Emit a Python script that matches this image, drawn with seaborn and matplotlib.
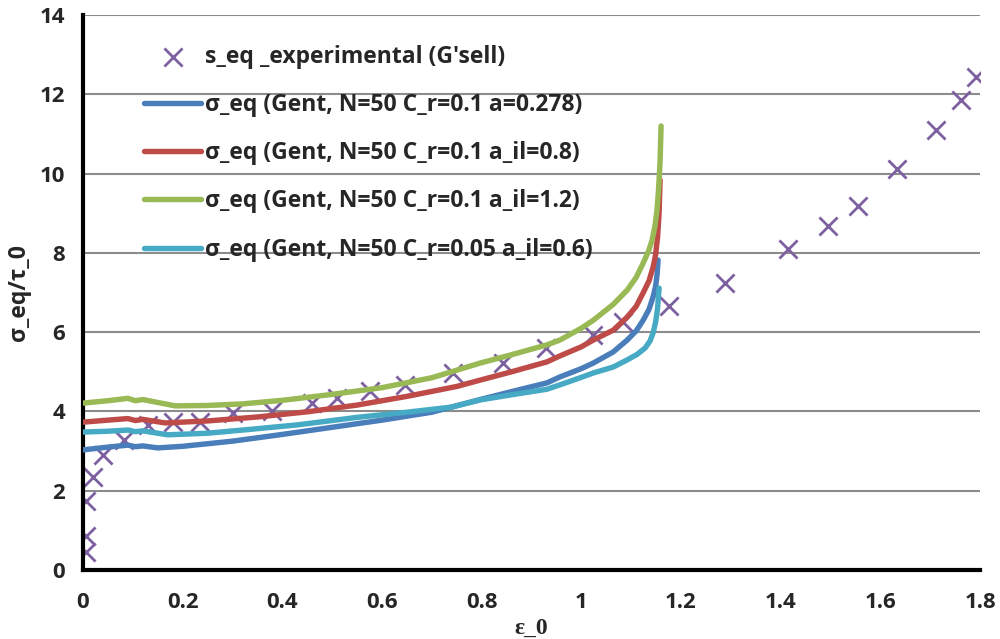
import numpy as np
import pandas as pd
import matplotlib
matplotlib.use("Agg")
import matplotlib.pyplot as plt
import seaborn as sns

# Experimental data (G'sell)
exp_x = [0.006, 0.006, 0.006, 0.02, 0.04, 0.082, 0.13, 0.18, 0.235, 0.30, 0.38, 0.46,
         0.51, 0.576, 0.646, 0.743, 0.843, 0.93, 1.023, 1.084, 1.176, 1.288, 1.415,
         1.495, 1.555, 1.634, 1.712, 1.762, 1.792]
exp_y = [0.45, 0.85, 1.74, 2.35, 2.9, 3.28, 3.66, 3.74, 3.74, 3.95, 4.0, 4.2,
         4.35, 4.52, 4.67, 4.97, 5.22, 5.6, 5.93, 6.26, 6.66, 7.24, 8.1,
         8.68, 9.18, 10.12, 11.1, 11.86, 12.44]

blue_x = [0, 0.05, 0.09, 0.105, 0.12, 0.15, 0.2, 0.3, 0.4, 0.5, 0.6, 0.7, 0.797, 0.86,
          0.931, 0.957, 1.0, 1.024, 1.064, 1.092, 1.11, 1.124, 1.136, 1.144, 1.149,
          1.152, 1.154]
blue_y = [3.03, 3.1, 3.15, 3.11, 3.13, 3.08, 3.12, 3.25, 3.42, 3.6, 3.78, 3.98, 4.3, 4.5,
          4.72, 4.87, 5.08, 5.22, 5.5, 5.8, 6.03, 6.3, 6.58, 6.89, 7.15, 7.45, 7.82]

red_x = [0, 0.05, 0.09, 0.105, 0.12, 0.165, 0.25, 0.35, 0.45, 0.55, 0.65, 0.75, 0.797,
         0.86, 0.931, 0.957, 1.0, 1.024, 1.064, 1.092, 1.11, 1.124, 1.136, 1.144, 1.149,
         1.153, 1.156, 1.158]
red_y = [3.73, 3.78, 3.82, 3.77, 3.8, 3.71, 3.76, 3.86, 3.99, 4.16, 4.38, 4.63, 4.79,
         5.0, 5.25, 5.4, 5.63, 5.8, 6.05, 6.38, 6.65, 6.99, 7.3, 7.64, 7.95, 8.4, 9.0, 9.84]

green_x = [0, 0.05, 0.09, 0.105, 0.12, 0.185, 0.25, 0.32, 0.4, 0.5, 0.6, 0.7, 0.797,
           0.86, 0.931, 0.957, 1.0, 1.024, 1.064, 1.092, 1.11, 1.124, 1.135, 1.142,
           1.148, 1.152, 1.155, 1.158, 1.16]
green_y = [4.21, 4.27, 4.33, 4.27, 4.3, 4.14, 4.15, 4.19, 4.28, 4.43, 4.6, 4.85, 5.22,
           5.43, 5.68, 5.8, 6.1, 6.3, 6.7, 7.06, 7.38, 7.74, 8.05, 8.32, 8.7, 9.1, 9.6,
           10.3, 11.2]

cyan_x = [0, 0.05, 0.09, 0.105, 0.12, 0.17, 0.25, 0.32, 0.43, 0.55, 0.65, 0.74, 0.797,
          0.86, 0.931, 0.957, 1.0, 1.024, 1.064, 1.092, 1.112, 1.128, 1.138, 1.144,
          1.149, 1.153, 1.156]
cyan_y = [3.48, 3.5, 3.53, 3.49, 3.51, 3.41, 3.45, 3.53, 3.66, 3.85, 3.98, 4.11, 4.29,
          4.42, 4.56, 4.67, 4.86, 4.97, 5.12, 5.3, 5.44, 5.6, 5.78, 5.98, 6.25, 6.6, 7.11]

labels = ["σ_eq (Gent, N=50 C_r=0.1 a=0.278)",
          "σ_eq (Gent, N=50 C_r=0.1 a_il=0.8)",
          "σ_eq (Gent, N=50 C_r=0.1 a_il=1.2)",
          "σ_eq (Gent, N=50 C_r=0.05 a_il=0.6)"]
exp_label = "s_eq _experimental (G'sell)"
colors = ["#4a7ebb", "#be4b48", "#98b954", "#46aac5"]
x_ticks = [0, 0.2, 0.4, 0.6, 0.8, 1, 1.2, 1.4, 1.6, 1.8]
x_tick_labels = ["0", "0.2", "0.4", "0.6", "0.8", "1", "1.2", "1.4", "1.6", "1.8"]
y_ticks = [0, 2, 4, 6, 8, 10, 12, 14]

sns.set_style("white")
plt.rcParams['font.family'] = ['Open Sans', 'DejaVu Sans']
plt.rcParams['font.weight'] = 'bold'

fig = plt.figure(figsize=(10, 6.39), dpi=100)
ax = fig.add_axes([0.083, 0.108, 0.897, 0.8685])

exp_df = pd.DataFrame({"x": exp_x, "y": exp_y})
sns.scatterplot(data=exp_df, x="x", y="y", marker="x", s=170, color="#7d60a0",
                linewidth=2.0, ax=ax, label=exp_label, zorder=2)

series = [(blue_x, blue_y), (red_x, red_y), (green_x, green_y), (cyan_x, cyan_y)]
for (sx, sy), lab, col in zip(series, labels, colors):
    df = pd.DataFrame({"x": sx, "y": sy})
    sns.lineplot(data=df, x="x", y="y", sort=False, color=col, linewidth=3.9,
                 ax=ax, label=lab, zorder=3, solid_capstyle="round",
                 solid_joinstyle="round")

ax.set_xlim(0, 1.8)
ax.set_ylim(0, 14)
ax.set_xticks(x_ticks)
ax.set_xticklabels(x_tick_labels)
ax.set_yticks(y_ticks)
ax.yaxis.grid(True, color="#8c8c8c", linewidth=1.5)
ax.xaxis.grid(False)
ax.set_axisbelow(True)
for s in ["top", "right"]:
    ax.spines[s].set_visible(False)
for s in ["left", "bottom"]:
    ax.spines[s].set_color("black")
    ax.spines[s].set_linewidth(3)
ax.tick_params(axis="both", which="major", direction="out", length=7, width=2,
               color="black", labelsize=16, pad=6)
ax.tick_params(axis="x", pad=9)
for t in ax.get_xticklabels() + ax.get_yticklabels():
    t.set_fontweight("bold")

ax.set_xlabel("ε_0", fontsize=17, fontweight="bold", labelpad=3,
              family=["Liberation Serif", "DejaVu Serif"])
ax.set_ylabel("σ_eq/τ_0", fontsize=16.5, fontweight="bold", labelpad=6)

leg = ax.legend(loc="upper left", bbox_to_anchor=(0.058, 0.962), frameon=False,
                prop={"weight": "bold", "size": 16.5}, handlelength=2.5,
                handletextpad=0.15, labelspacing=1.05, borderaxespad=0)

fig.savefig("out.png", dpi=100)
